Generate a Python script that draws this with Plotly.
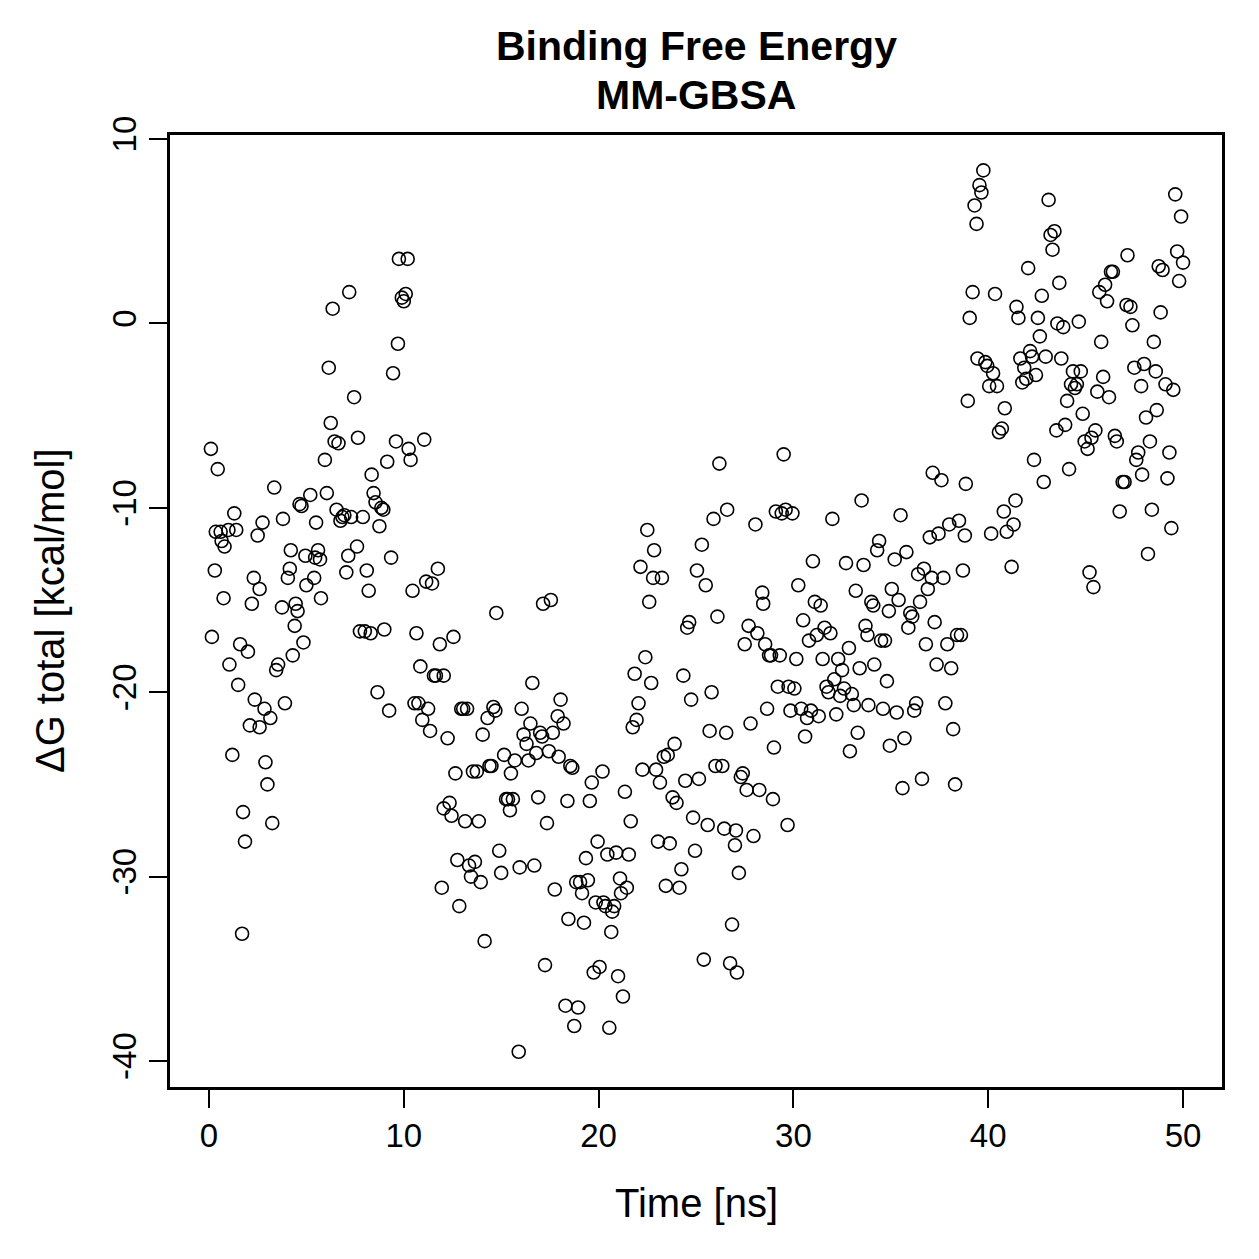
import plotly.graph_objects as go

# Time [ns] and Delta G total [kcal/mol]
time_ns = [
    0.1, 0.15, 0.3, 0.35, 0.45, 0.6, 0.65, 0.8, 0.75, 1.0, 1.05, 1.2, 1.3, 1.4, 1.5, 1.6, 1.7, 1.75, 1.85, 2.0,
    2.1, 2.2, 2.3, 2.35, 2.5, 2.6, 2.6, 2.75, 2.85, 2.9, 3.0, 3.15, 3.25, 3.35, 3.45, 3.55, 3.75, 3.8, 3.9, 4.05,
    4.15, 4.2, 4.3, 4.4, 4.45, 4.55, 4.65, 4.75, 4.85, 4.95, 5.0,
    5.2, 5.4, 5.45, 5.5, 5.6, 5.7, 5.75, 5.95, 6.05, 6.15, 6.25, 6.35, 6.45, 6.55, 6.65, 6.75, 6.85, 6.95, 7.05,
    7.15, 7.2, 7.3, 7.45, 7.6, 7.65, 7.75, 7.9, 8.0, 8.1, 8.2, 8.3, 8.35, 8.45, 8.55, 8.65, 8.75, 8.85, 8.95, 9.0,
    9.15, 9.25, 9.35, 9.45, 9.6, 9.7, 9.75, 9.9, 10.0, 10.1, 10.2,
    10.25, 10.35, 10.45, 10.55, 10.65, 10.75, 10.85, 10.95, 11.05, 11.15, 11.25, 11.35, 11.45, 11.55, 11.65, 11.75,
    11.85, 11.95, 12.05, 12.05, 12.25, 12.35, 12.45, 12.55, 12.65, 12.75, 12.85, 12.95, 13.05, 13.15, 13.25, 13.35,
    13.45, 13.55, 13.65, 13.75, 13.85, 13.95, 14.05, 14.15, 14.3, 14.4, 14.5, 14.6, 14.7, 14.75, 14.9, 15.0,
    15.15, 15.25, 15.35, 15.45, 15.5, 15.6, 15.7, 15.9, 15.95, 16.05, 16.15, 16.3, 16.4, 16.5, 16.6, 16.7, 16.8,
    16.9, 17.0, 17.1, 17.15, 17.25, 17.35, 17.45, 17.55, 17.65, 17.75, 17.9, 17.95, 18.05, 18.2, 18.3, 18.4, 18.45,
    18.55, 18.65, 18.75, 18.85, 18.95, 19.05, 19.15, 19.25, 19.35, 19.45, 19.55, 19.65, 19.75, 19.85, 19.95,
    20.05, 20.2, 20.25, 20.35, 20.45, 20.55, 20.65, 20.7, 20.8, 20.9, 21.0, 21.1, 21.15, 21.25, 21.35, 21.45, 21.55,
    21.65, 21.75, 21.85, 21.95, 22.05, 22.15, 22.25, 22.4, 22.5, 22.6, 22.7, 22.8, 22.85, 22.95, 23.05, 23.15, 23.25,
    23.35, 23.45, 23.55, 23.65, 23.8, 23.9, 24.0, 24.15, 24.25, 24.35, 24.45, 24.55, 24.65, 24.75, 24.85, 24.95, 25.05,
    25.15, 25.3, 25.4, 25.5, 25.6, 25.7, 25.8, 25.9, 26.0, 26.1, 26.2, 26.35, 26.45, 26.55, 26.6, 26.75, 26.85, 27.0,
    27.05, 27.1, 27.2, 27.3, 27.4, 27.5, 27.6, 27.7, 27.8, 27.95, 28.05, 28.15, 28.25, 28.4, 28.45, 28.55, 28.65,
    28.75, 28.85, 28.95, 29.0, 29.1, 29.2, 29.3, 29.4, 29.5, 29.6, 29.7, 29.75, 29.85, 29.95, 30.05, 30.15,
    30.25, 30.4, 30.5, 30.6, 30.7, 30.8, 30.9, 31.0, 31.1, 31.2, 31.3, 31.4, 31.5, 31.6, 31.7, 31.8, 31.9, 32.0,
    32.1, 32.2, 32.3, 32.4, 32.5, 32.6, 32.7, 32.85, 32.9, 33.0, 33.1, 33.2, 33.3, 33.4, 33.5, 33.6, 33.7, 33.8,
    33.85, 34.0, 34.1, 34.15, 34.3, 34.4, 34.5, 34.6, 34.7, 34.8, 34.9, 34.95, 35.05, 35.2,
    35.3, 35.4, 35.5, 35.6, 35.7, 35.8, 35.9, 36.0, 36.1, 36.2, 36.3, 36.4, 36.5, 36.6, 36.7, 36.8, 36.9, 37.0,
    37.1, 37.15, 37.25, 37.35, 37.45, 37.6, 37.7, 37.8, 37.9, 38.0, 38.1, 38.2, 38.3, 38.4, 38.5, 38.6, 38.7, 38.8,
    38.85, 38.95, 39.05, 39.2, 39.3, 39.4, 39.45, 39.55, 39.65, 39.75, 39.85, 39.95, 40.05, 40.15,
    40.25, 40.35, 40.45, 40.55, 40.7, 40.8, 40.85, 40.95, 41.2, 41.3, 41.4, 41.45, 41.55, 41.65, 41.75, 41.85, 41.95,
    42.05, 42.15, 42.25, 42.35, 42.45, 42.55, 42.65, 42.75, 42.85, 42.95, 43.1, 43.2, 43.3, 43.4, 43.5, 43.55, 43.65,
    43.75, 43.85, 43.95, 44.05, 44.15, 44.25, 44.35, 44.45, 44.55, 44.65, 44.75, 44.85, 44.95,
    45.1, 45.2, 45.3, 45.4, 45.5, 45.6, 45.7, 45.8, 45.9, 46.0, 46.1, 46.2, 46.3, 46.4, 46.5, 46.6, 46.75, 46.9,
    47.0, 47.1, 47.15, 47.3, 47.4, 47.5, 47.6, 47.7, 47.85, 47.9, 48.0, 48.1, 48.2, 48.3, 48.4, 48.5, 48.6, 48.65,
    48.75, 48.85, 48.95, 49.1, 49.2, 49.3, 49.4, 49.5, 49.6, 49.7, 49.8, 49.9, 50.0,
]

delta_g = [
    -6.8, -17.0, -13.4, -11.3, -7.9, -11.3, -11.8, -12.1, -14.9, -11.2, -18.5, -23.4, -10.3, -11.2, -19.6, -17.4, -33.1, -26.5, -28.1, -17.8,
    -21.8, -15.2, -13.8, -20.4, -11.5, -14.4, -21.9, -10.8, -20.9, -23.8, -25.0, -21.4, -27.1, -8.9, -18.8, -18.5, -15.4, -10.6, -20.6, -13.8,
    -13.3, -12.3, -18.0, -16.4, -15.2, -15.6, -9.8, -9.9, -17.3, -12.6, -14.2,
    -9.3, -13.8, -12.7, -10.8, -12.3, -12.8, -14.9, -7.4, -9.2, -2.4, -5.4, 0.8, -6.4, -10.1, -6.5, -10.7, -10.5, -10.4, -13.5,
    -12.6, 1.7, -10.5, -4.0, -12.1, -6.2, -16.7, -10.5, -16.7, -13.4, -14.5, -16.8, -8.2, -9.2, -9.7, -20.0, -11.0, -10.0, -10.1, -16.6,
    -7.5, -21.0, -12.7, -2.7, -6.4, -1.1, 3.5, 1.4, 1.2, 1.6, 3.5,
    -6.8, -7.4, -14.5, -20.6, -16.8, -20.6, -18.6, -21.5, -6.3, -14.0, -20.9, -22.1, -14.1, -19.1, -19.1, -13.3,
    -17.4, -30.6, -19.1, -26.3, -22.5, -26.0, -26.7, -17.0, -24.4, -29.1, -31.6, -20.9, -20.9, -27.0, -20.9, -29.4,
    -30.0, -24.3, -29.2, -24.3, -27.0, -30.3, -22.3, -33.5, -21.4, -24.0, -24.0, -20.8, -21.0, -15.7, -28.6, -29.8,
    -23.4, -25.8, -25.8, -26.4, -24.4, -25.8, -23.7, -39.5, -29.5, -20.9, -22.3, -22.8, -23.7, -21.7, -19.5, -29.4, -23.3,
    -25.7, -22.2, -22.4, -15.2, -34.8, -27.1, -23.2, -15.0, -22.2, -30.7, -21.3, -23.5, -20.4, -21.7, -37.0, -25.9, -32.3,
    -24.0, -24.1, -38.1, -30.3, -37.1, -30.3, -30.9, -32.5, -29.0, -30.2, -25.9, -24.9, -35.2, -31.4, -28.1,
    -34.9, -24.3, -31.4, -31.6, -28.8, -38.2, -33.0, -31.9, -31.6, -28.7, -35.4, -30.1, -30.9, -36.5, -25.4, -30.6, -28.8,
    -27.0, -21.9, -19.0, -21.5, -20.6, -13.2, -24.2, -18.1, -11.2, -15.1, -19.5, -13.8, -12.3, -24.2, -28.1, -24.9, -13.8,
    -23.5, -30.5, -23.4, -28.2, -25.7, -22.8, -26.0, -30.6, -29.6, -19.1, -24.8, -16.5, -16.2, -20.4, -26.8, -28.6, -13.4,
    -24.7, -12.0, -34.5, -14.2, -27.2, -22.1, -20.0, -10.6, -24.0, -15.9, -7.6, -24.0, -27.4, -22.2, -10.1, -34.7, -32.6, -28.3,
    -27.5, -35.2, -29.8, -24.6, -24.4, -17.4, -25.3, -16.4, -21.7, -27.8, -10.9, -16.8, -25.3, -14.6, -15.2, -17.4, -20.9,
    -18.0, -18.0, -25.8, -23.0, -10.2, -19.7, -18.0, -10.3, -7.1, -10.1, -27.2, -19.7, -21.0, -10.3, -19.8, -18.2,
    -14.2, -20.9, -16.1, -22.4, -21.4, -17.2, -21.0, -12.9, -15.1, -16.9, -21.3, -15.3, -18.2, -16.5, -19.7, -20.0, -16.8, -10.6,
    -19.3, -21.2, -18.2, -20.2, -18.8, -19.8, -13.0, -17.6, -23.2, -20.1, -20.7, -14.5, -22.2, -18.7, -9.6, -13.1, -16.4, -16.9,
    -20.7, -15.1, -15.3, -18.5, -12.3, -11.8, -17.2, -20.9, -17.2, -19.4, -15.6, -22.9, -14.4, -12.8,
    -21.1, -15.0, -10.4, -25.2, -22.5, -12.4, -16.5, -15.7, -15.9, -21.0, -20.6, -13.6, -15.1, -24.7, -13.3, -17.4, -14.4, -11.6,
    -13.8, -8.1, -16.2, -18.5, -11.4, -8.5, -13.8, -20.6, -17.4, -10.9, -18.7, -22.0, -25.0, -16.9, -10.7, -16.9, -13.4, -11.5,
    -8.7, -4.2, 0.3, 1.7, 6.4, 5.4, -1.9, 7.5, 7.1, 8.3, -2.1, -2.3, -3.4, -11.4,
    -2.7, 1.6, -3.4, -5.9, -5.7, -10.2, -4.6, -11.3, -13.2, -10.9, -9.6, 0.9, 0.3, -1.9, -3.2, -2.4, -3.0,
    3.0, -1.5, -1.8, -7.4, -2.8, 0.3, -0.7, 1.5, -8.6, -1.8, 6.7, 4.8, 4.0, 5.0, -5.8, 0.0, 2.2,
    -1.9, -0.2, -5.5, -4.2, -7.9, -3.3, -2.6, -3.5, -3.3, 0.1, -2.6, -4.9, -6.4,
    -6.8, -13.5, -6.2, -14.3, -5.8, -3.7, 1.7, -1.0, -2.9, 2.1, 1.2, -4.0, 2.8, 2.8, -6.1, -6.4, -10.2, -8.6,
    -8.6, 1.0, 3.7, 0.9, -0.1, -2.4, -7.4, -7.0, -3.4, -8.2, -2.2, -5.1, -12.5, -6.4, -10.1, -1.0, -2.6, -4.7,
    3.1, 0.6, 2.9, -3.3, -8.4, -7.0, -11.1, -3.6, 7.0, 3.9, 2.3, 5.8, 3.3,
]

x_ticks = [0, 10, 20, 30, 40, 50]
y_ticks = [-40, -30, -20, -10, 0, 10]
y_tick_text = ["-40", "-30", "-20", "-10", "0", "10"]

title_line1 = "Binding Free Energy"
title_line2 = "MM-GBSA"
x_label = "Time [ns]"
y_label = "ΔG total [kcal/mol]"

FONT = "Liberation Sans, Arial, sans-serif"

fig = go.Figure()
fig.add_trace(go.Scatter(
    x=time_ns, y=delta_g, mode="markers",
    marker=dict(symbol="circle-open", size=13, color="black", line=dict(width=1.6, color="black")),
    showlegend=False, hoverinfo="x+y",
))

axis_common = dict(
    showgrid=False, zeroline=False, showline=True, linecolor="black", linewidth=2.5, mirror=True,
    ticks="outside", ticklen=18, tickwidth=2, tickcolor="black",
    tickfont=dict(family=FONT, size=33, color="black"),
)

fig.update_layout(
    width=1259, height=1259,
    margin=dict(l=170, r=37, t=135, b=172),
    paper_bgcolor="white", plot_bgcolor="white",
    xaxis=dict(range=[-2, 52], tickvals=x_ticks, ticktext=[str(v) for v in x_ticks], **axis_common),
    yaxis=dict(range=[-41.41, 10.22], tickvals=y_ticks, ticktext=y_tick_text, tickangle=-90, **axis_common),
    font=dict(family=FONT, color="black"),
    annotations=[
        dict(text="<b>" + title_line1 + "</b>", x=0.5, y=1.0935, xref="paper", yref="paper",
             xanchor="center", yanchor="middle", showarrow=False, font=dict(family=FONT, size=41)),
        dict(text="<b>" + title_line2 + "</b>", x=0.5, y=1.042, xref="paper", yref="paper",
             xanchor="center", yanchor="middle", showarrow=False, font=dict(family=FONT, size=41)),
        dict(text=x_label, x=0.5, y=-0.1218, xref="paper", yref="paper",
             xanchor="center", yanchor="middle", showarrow=False, font=dict(family=FONT, size=40)),
        dict(text=y_label, x=-0.114, y=0.5, xref="paper", yref="paper", textangle=-90,
             xanchor="center", yanchor="middle", showarrow=False, font=dict(family=FONT, size=40)),
    ],
)

fig.write_html("out.html")
